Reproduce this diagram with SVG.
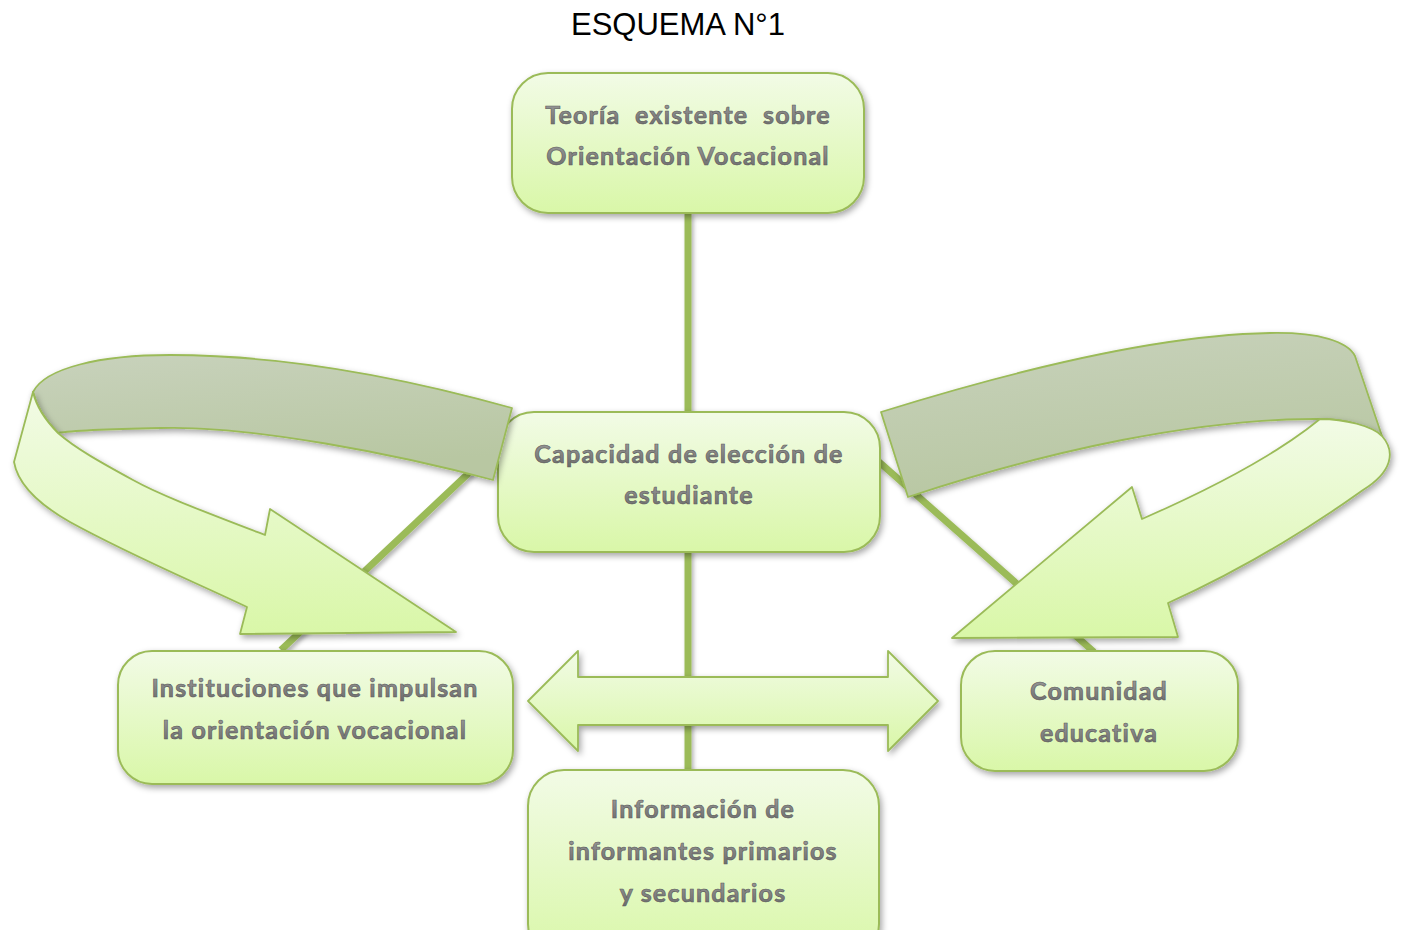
<svg xmlns="http://www.w3.org/2000/svg" width="1402" height="930" viewBox="0 0 1402 930">
<defs>
<linearGradient id="gBox" x1="0" y1="0" x2="0" y2="1">
<stop offset="0" stop-color="#f2fbe6"/>
<stop offset="1" stop-color="#d9f7a8"/>
</linearGradient>
<linearGradient id="gDark" x1="0" y1="0" x2="0.3" y2="1">
<stop offset="0" stop-color="#c8d2bc"/>
<stop offset="1" stop-color="#b8c7a2"/>
</linearGradient>
<linearGradient id="gText" x1="0" y1="0" x2="0" y2="1">
<stop offset="0" stop-color="#a0a0a0"/>
<stop offset="1" stop-color="#6a6a6a"/>
</linearGradient>
<filter id="sh" x="-10%" y="-10%" width="125%" height="130%">
<feDropShadow dx="2" dy="3" stdDeviation="3" flood-color="#000" flood-opacity="0.35"/>
</filter>
<filter id="shU" filterUnits="userSpaceOnUse" x="0" y="0" width="1402" height="930">
<feDropShadow dx="2" dy="3" stdDeviation="2" flood-color="#000" flood-opacity="0.3"/>
</filter>
</defs>
<style>
.box{fill:url(#gBox);stroke:#9bbb59;stroke-width:2;filter:url(#sh)}
.shape{fill:url(#gBox);stroke:#9bbb59;stroke-width:1.8;stroke-linejoin:round;filter:url(#sh)}
.band{fill:url(#gDark);stroke:#9bbb59;stroke-width:1.8;stroke-linejoin:round;filter:url(#sh)}
.con{stroke:#9bbb59;stroke-width:7;fill:none;filter:url(#shU)}
.lbl{font-family:Lato,"Open Sans","Liberation Sans",sans-serif;font-weight:bold;font-size:25px;letter-spacing:1.2px;fill:url(#gText);stroke:#5a5a5a;stroke-width:0.6;text-anchor:middle;white-space:pre}
.title{font-family:"Liberation Sans",Arial,sans-serif;font-size:31px;fill:#000;text-anchor:middle}
</style>
<rect width="1402" height="930" fill="#fff"/>
<text class="title" x="678" y="35">ESQUEMA N°1</text>
<g id="connectors">
<line class="con" x1="688" y1="212" x2="688" y2="414"/>
<line class="con" x1="688" y1="550" x2="688" y2="772"/>
<line class="con" x1="472" y1="470" x2="281" y2="650"/>
<line class="con" x1="878" y1="461" x2="1094" y2="652"/>
</g>
<g id="node-teoria">
<rect class="box" x="512" y="73" width="352" height="140" rx="36"/>
<text class="lbl" x="688" y="124" xml:space="preserve">Teoría  existente  sobre</text>
<text class="lbl" x="688" y="165">Orientación Vocacional</text>
</g>
<g id="node-capacidad">
<rect class="box" x="498" y="412" width="382" height="140" rx="36"/>
<text class="lbl" x="689" y="463">Capacidad de elección de</text>
<text class="lbl" x="689" y="504">estudiante</text>
</g>
<g id="node-instituciones">
<rect class="box" x="118" y="651" width="395" height="133" rx="34"/>
<text class="lbl" x="315" y="697">Instituciones que impulsan</text>
<text class="lbl" x="315" y="739">la orientación vocacional</text>
</g>
<g id="node-comunidad">
<rect class="box" x="961" y="651" width="277" height="120" rx="34"/>
<text class="lbl" x="1099" y="700">Comunidad</text>
<text class="lbl" x="1099" y="742">educativa</text>
</g>
<g id="double-arrow">
<path class="shape" d="M528,701 L578,651 L578,677 L888,677 L888,651 L938,701 L888,751 L888,725 L578,725 L578,751 Z"/>
</g>
<g id="node-informacion">
<rect class="box" x="528" y="770" width="351" height="190" rx="36"/>
<text class="lbl" x="703" y="818">Información de</text>
<text class="lbl" x="703" y="860">informantes primarios</text>
<text class="lbl" x="703" y="902">y secundarios</text>
</g>
<g id="curved-arrow-left">
<path class="band" d="M33,392 C45,368 100,355 170,355 C300,355 430,385 512,408 L493,480 C400,455 250,425 160,428 C110,429 75,430 58,433 C45,420 36,405 33,392 Z"/>
<path class="shape" d="M33,392 L14,462 C18,485 40,505 70,522 C130,555 190,580 247,607 L240,634 L456,632 L270,509 L265,535 C200,510 160,495 133,480 C100,462 75,448 58,433 C45,420 36,405 33,392 Z"/>
</g>
<g id="curved-arrow-right">
<path class="band" d="M881,412 C1000,375 1150,335 1270,333 C1320,332 1348,342 1355,356 L1382,436 C1370,426 1345,419 1320,419 C1200,418 1050,450 908,497 Z"/>
<path class="shape" d="M1320,419 C1345,419 1372,426 1382,436 C1396,452 1392,472 1363,490 C1300,535 1230,575 1168,603 L1178,637 L952,638 L1132,487 L1142,519 C1190,498 1270,460 1320,419 Z"/>
</g>
</svg>
